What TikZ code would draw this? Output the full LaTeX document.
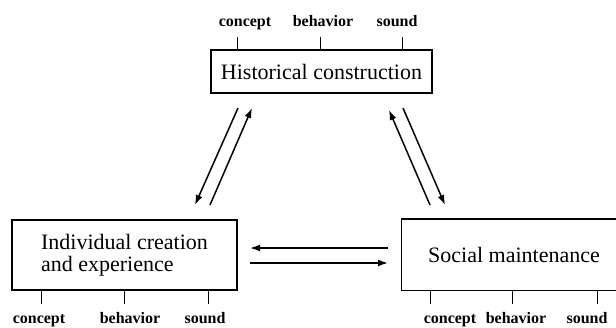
\documentclass[tikz,border=0pt]{standalone}
\usepackage{fontspec}
\setmainfont{Liberation Serif}
\usetikzlibrary{arrows.meta}

\begin{document}
\begin{tikzpicture}[x=1pt,y=1pt,->,>={Latex[length=10pt,width=7pt]},line width=1.5pt,
  box/.style={draw,rectangle,inner sep=0pt,font=\fontsize{22}{22}\selectfont},
  tag/.style={anchor=base,font=\fontsize{16}{18}\selectfont\bfseries}]
  \useasboundingbox (0,0) rectangle (616,328);
  \node[box,minimum width=221,minimum height=43] (hist) at (321.5,256.5) {Historical construction};
  \node[box,minimum width=225,minimum height=70,align=left] (indiv) at (124.5,73) {Individual creation\\and experience};
  \node[box,draw=none,minimum width=224,minimum height=70] (social) at (514,73) {Social maintenance};
  \draw[-] (social.north east) -- (social.north west) -- (social.south west) -- (social.south east);
  % ticks
  \foreach \dx in {27,110,192} \draw[-] ([xshift=\dx pt]hist.north west) -- ++(0,12);
  \foreach \dx in {30,113,197} \draw[-] ([xshift=\dx pt]indiv.south west) -- ++(0,-13);
  \foreach \dx in {29,111,196} \draw[-] ([xshift=\dx pt]social.south west) -- ++(0,-13);
  % tags
  \node[tag] (hc) at (245,301) {concept};
  \node[tag] (hb) at (323,301) {behavior};
  \node[tag] (hs) at (397,301) {sound};
  \node[tag] (ic) at (39,4) {concept};
  \node[tag] (ib) at (130,4) {behavior};
  \node[tag] (is) at (205,4) {sound};
  \node[tag] (sc) at (450,4) {concept};
  \node[tag] (sb) at (516,4) {behavior};
  \node[tag] (ss) at (587,4) {sound};
  % arrow ends
  \coordinate (a1) at (238,220); \coordinate (b1) at (195,123);
  \coordinate (a2) at (210,123); \coordinate (b2) at (252,220);
  \coordinate (a3) at (430,123); \coordinate (b3) at (389,218);
  \coordinate (a4) at (403,220); \coordinate (b4) at (445,123);
  \coordinate (a5) at (388,80);  \coordinate (b5) at (250,80);
  \coordinate (a6) at (250,65);  \coordinate (b6) at (388,65);
  \foreach \i in {1,...,6} \draw (a\i) -- (b\i);
\end{tikzpicture}
\end{document}
